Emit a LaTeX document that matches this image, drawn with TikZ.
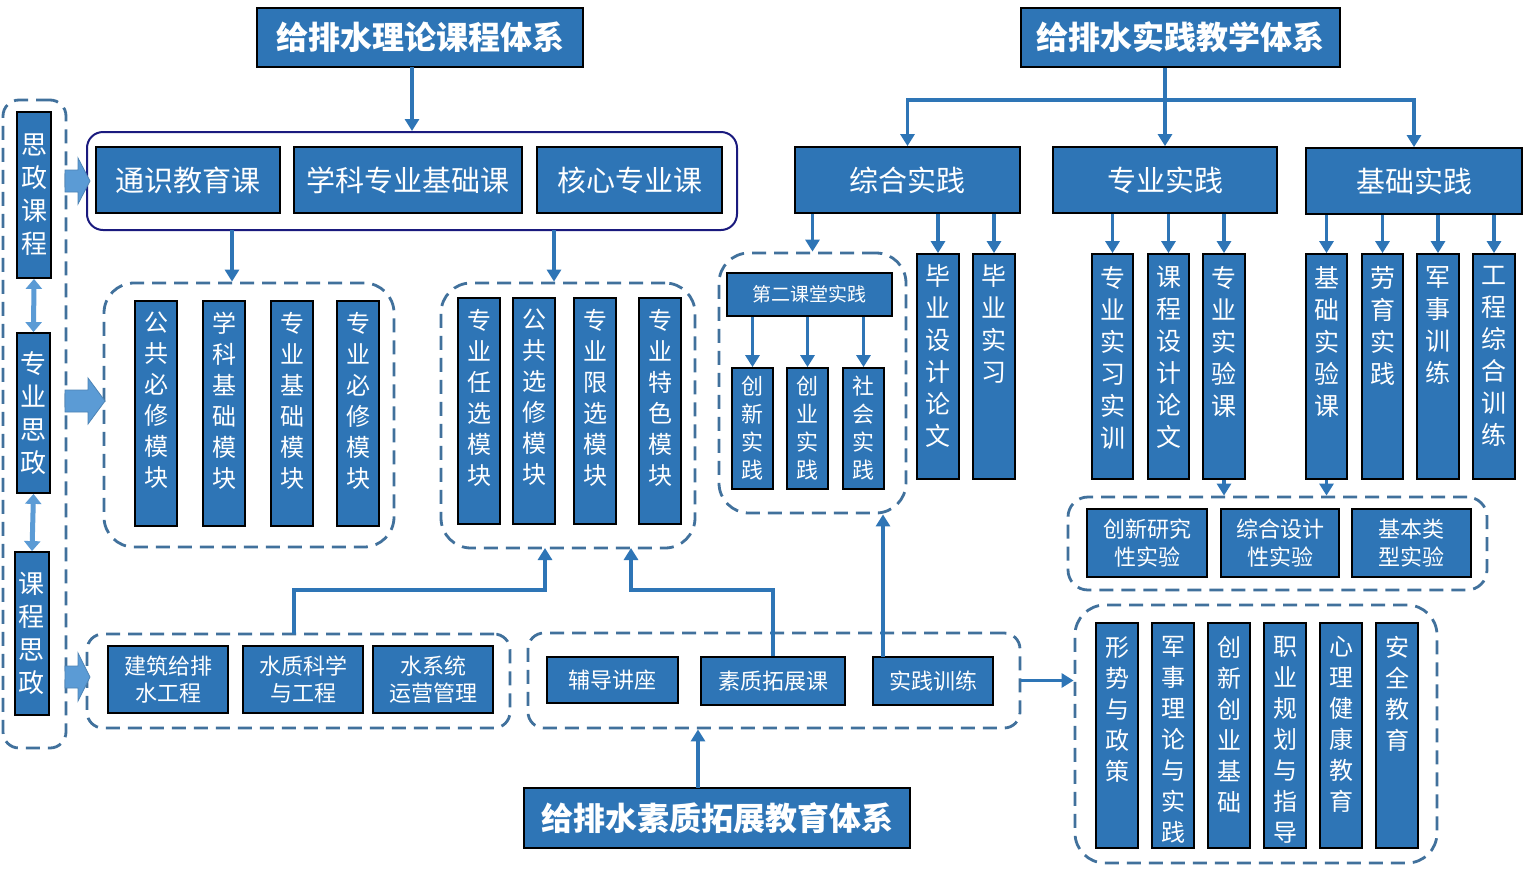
\documentclass[tikz,border=0pt]{standalone}
\usepackage{fontspec}
\newfontfamily\cjk{Noto Sans CJK SC}
\usetikzlibrary{arrows.meta}
\definecolor{boxblue}{HTML}{2E75B6}
\definecolor{dashblue}{HTML}{41719C}
\definecolor{arrblue}{HTML}{2E75B6}
\definecolor{lightarr}{HTML}{5B9BD5}
\definecolor{navyline}{HTML}{1A1A7E}
\newcommand\vmod[8]{%
  \node[box, minimum width=#4, minimum height=#5] (#1) at (#2,#3) {};
  \node[#6, anchor=north] (#1t) at ([yshift=-#7pt]#1.north) {#8};}
\begin{document}
\begin{tikzpicture}[x=1pt,y=-1pt,
  box/.style={draw=black, line width=1.8pt, fill=boxblue, inner sep=0pt, text=white},
  title/.style={box, font=\cjk\bfseries\fontsize{32}{38}\selectfont},
  mid/.style={box, font=\cjk\fontsize{29}{34}\selectfont},
  small/.style={box, font=\cjk\fontsize{22}{28}\selectfont, align=center},
  grp/.style={draw=dashblue, line width=2.8pt, dash pattern=on 14pt off 8pt, inner sep=0pt},
  arr/.style={draw=arrblue, line width=3.5pt, -{Triangle[width=14pt,length=12pt]}},
  dbl/.style={draw=lightarr, line width=5pt, {Triangle[width=16pt,length=10pt]}-{Triangle[width=16pt,length=10pt]}},
  barr/.style={fill=lightarr, draw=lightarr!85!black, line width=0.8pt},
  vtL/.style={font=\cjk\fontsize{26}{33}\selectfont, align=center},
  vtA/.style={text=white, inner sep=0pt, align=center, font=\cjk\fontsize{24}{31}\selectfont},
  vtE/.style={text=white, inner sep=0pt, align=center, font=\cjk\fontsize{25}{32}\selectfont},
  vtD/.style={font=\cjk\fontsize{22}{28}\selectfont, align=center}]
\useasboundingbox (0,0) rectangle (1534,868);
\fill[white] (0,0) rectangle (1534,868);

% ---------- groups ----------
\node[grp, rounded corners=16pt, minimum width=63, minimum height=648] (LG) at (34.5,424) {};
\node[draw=navyline, line width=2pt, rounded corners=16pt, minimum width=650, minimum height=98, inner sep=0pt] (G1) at (412,181) {};
\node[grp, rounded corners=30pt, minimum width=290, minimum height=264] (GA) at (249,415) {};
\node[grp, rounded corners=30pt, minimum width=254, minimum height=265] (GB) at (568,415.5) {};
\node[grp, rounded corners=30pt, minimum width=187, minimum height=260] (GC) at (812.5,383) {};
\node[grp, rounded corners=20pt, minimum width=419, minimum height=93] (GD) at (1277.5,543.5) {};
\node[grp, rounded corners=30pt, minimum width=362, minimum height=258] (GE) at (1256,734) {};
\node[grp, rounded corners=16pt, minimum width=423, minimum height=94] (GG) at (298.5,681) {};
\node[grp, rounded corners=16pt, minimum width=492, minimum height=95] (GF) at (774,680.5) {};

% ---------- titles ----------
\node[title, minimum width=326, minimum height=59] (T1) at (420,37.5) {给排水理论课程体系};
\node[title, minimum width=319, minimum height=59] (T2) at (1180.5,37.5) {给排水实践教学体系};
\node[title, minimum width=386, minimum height=60] (T3) at (717,818) {给排水素质拓展教育体系};

% ---------- left column ----------
\node[box, vtL, minimum width=34, minimum height=166] (L1) at (34,195) {思\\政\\课\\程};
\node[box, vtL, minimum width=33, minimum height=160] (L2) at (33.5,413) {专\\业\\思\\政};
\node[box, vtL, minimum width=34, minimum height=163] (L3) at (32,633.5) {课\\程\\思\\政};
\draw[dbl] (L1.south) -- (L2.north);
\draw[dbl] (L2.south) -- (L3.north);

% block arrows
\filldraw[barr] (65,170) -- (78,170) -- (78,158) -- (90,181) -- (78,204) -- (78,192) -- (65,192) -- cycle;
\filldraw[barr] (65,390) -- (88,390) -- (88,378) -- (105,401) -- (88,424) -- (88,412) -- (65,412) -- cycle;
\filldraw[barr] (65,666) -- (78,666) -- (78,653) -- (90,677) -- (78,701) -- (78,688) -- (65,688) -- cycle;

% ---------- theory courses ----------
\node[mid, minimum width=184, minimum height=66] (C1) at (188,180) {通识教育课};
\node[mid, minimum width=228, minimum height=66] (C2) at (408,180) {学科专业基础课};
\node[mid, minimum width=185, minimum height=66] (C3) at (629.5,180) {核心专业课};

\vmod{A1}{156}{413.5}{42}{225}{vtA}{12}{公\\共\\必\\修\\模\\块}
\vmod{A2}{224}{413.5}{42}{225}{vtA}{12}{学\\科\\基\\础\\模\\块}
\vmod{A3}{292}{413.5}{42}{225}{vtA}{12}{专\\业\\基\\础\\模\\块}
\vmod{A4}{358}{413.5}{42}{225}{vtA}{12}{专\\业\\必\\修\\模\\块}

\vmod{B1}{479}{411}{42}{226}{vtA}{12}{专\\业\\任\\选\\模\\块}
\vmod{B2}{534}{411}{42}{226}{vtA}{12}{公\\共\\选\\修\\模\\块}
\vmod{B3}{595}{411}{42}{226}{vtA}{12}{专\\业\\限\\选\\模\\块}
\vmod{B4}{660}{411}{42}{226}{vtA}{12}{专\\业\\特\\色\\模\\块}

% ---------- practice ----------
\node[mid, minimum width=225, minimum height=66] (ZH) at (907.5,180) {综合实践};
\node[mid, minimum width=224, minimum height=66] (ZY) at (1165,180) {专业实践};
\node[mid, minimum width=216, minimum height=66] (JC) at (1414,181) {基础实践};

\node[box, font=\cjk\fontsize{19}{24}\selectfont, minimum width=165, minimum height=43] (D0) at (809.5,294.5) {第二课堂实践};
\node[box, vtD, minimum width=41, minimum height=121] (D1) at (752.5,428.5) {创\\新\\实\\践};
\node[box, vtD, minimum width=41, minimum height=121] (D2) at (807.5,428.5) {创\\业\\实\\践};
\node[box, vtD, minimum width=41, minimum height=121] (D3) at (863.5,428.5) {社\\会\\实\\践};

\vmod{E1}{938}{366.5}{42}{225}{vtE}{11}{毕\\业\\设\\计\\论\\文}
\vmod{E2}{994}{366.5}{42}{225}{vtE}{11}{毕\\业\\实\\习}
\vmod{P1}{1112.5}{366.5}{41}{225}{vtE}{13}{专\\业\\实\\习\\实\\训}
\vmod{P2}{1168.5}{366.5}{41}{225}{vtE}{13}{课\\程\\设\\计\\论\\文}
\vmod{P3}{1224}{366.5}{42}{225}{vtE}{13}{专\\业\\实\\验\\课}
\vmod{Q1}{1326.5}{366.5}{41}{225}{vtE}{13}{基\\础\\实\\验\\课}
\vmod{Q2}{1382.5}{366.5}{41}{225}{vtE}{13}{劳\\育\\实\\践}
\vmod{Q3}{1438}{366.5}{42}{225}{vtE}{13}{军\\事\\训\\练}
\vmod{Q4}{1494}{366.5}{42}{225}{vtE}{13}{工\\程\\综\\合\\训\\练}

\node[small, minimum width=120, minimum height=68] (X1) at (1147,543) {创新研究\\性实验};
\node[small, minimum width=118, minimum height=68] (X2) at (1280,543) {综合设计\\性实验};
\node[small, minimum width=119, minimum height=68] (X3) at (1411.5,543) {基本类\\型实验};

\vmod{Y1}{1117}{735.5}{42}{225}{vtA}{14}{形\\势\\与\\政\\策}
\vmod{Y2}{1173}{735.5}{42}{225}{vtA}{14}{军\\事\\理\\论\\与\\实\\践}
\vmod{Y3}{1229}{735.5}{42}{225}{vtA}{14}{创\\新\\创\\业\\基\\础}
\vmod{Y4}{1285}{735.5}{42}{225}{vtA}{14}{职\\业\\规\\划\\与\\指\\导}
\vmod{Y5}{1341}{735.5}{42}{225}{vtA}{14}{心\\理\\健\\康\\教\\育}
\vmod{Y6}{1397}{735.5}{42}{225}{vtA}{14}{安\\全\\教\\育}

% ---------- bottom ----------
\node[small, font=\cjk\fontsize{22}{27}\selectfont, minimum width=120, minimum height=67] (S1) at (168,679.5) {建筑给排\\水工程};
\node[small, font=\cjk\fontsize{22}{27}\selectfont, minimum width=120, minimum height=67] (S2) at (303,679.5) {水质科学\\与工程};
\node[small, font=\cjk\fontsize{22}{27}\selectfont, minimum width=120, minimum height=67] (S3) at (433,679.5) {水系统\\运营管理};

\node[small, minimum width=131, minimum height=46] (F1) at (612.5,680) {辅导讲座};
\node[small, minimum width=144, minimum height=48] (F2) at (773,681) {素质拓展课};
\node[small, minimum width=120, minimum height=48] (F3) at (933,681) {实践训练};

% ---------- connectors ----------
\coordinate (t1b) at (412,67);
\draw[arr] (t1b) -- (t1b |- G1.north);
\coordinate (g1a) at (232,230);
\draw[arr] (g1a) -- (g1a |- GA.north);
\coordinate (g1b) at (554,230);
\draw[arr] (g1b) -- (g1b |- GB.north);

\coordinate (hub) at (1165,100);
\draw[arr] (T2.south -| ZY.north) -- (ZY.north);
\draw[arr] (hub) -| (ZH.north);
\draw[arr] (hub) -| (JC.north);

\draw[arr] (ZH.south -| GC.north) -- (GC.north);
\foreach \n in {E1,E2} \draw[arr] (ZH.south -| \n.north) -- (\n.north);
\foreach \n in {P1,P2,P3} \draw[arr] (ZY.south -| \n.north) -- (\n.north);
\foreach \n in {Q1,Q2,Q3,Q4} \draw[arr] (JC.south -| \n.north) -- (\n.north);
\foreach \n in {D1,D2,D3} \draw[arr] (D0.south -| \n.north) -- (\n.north);
\draw[arr] (P3.south) -- (P3.south |- GD.north);
\draw[arr] (Q1.south) -- (Q1.south |- GD.north);

\coordinate (lvl) at (0,590);
\coordinate (gg1) at (294,634);
\coordinate (gbin1) at (545,548);
\coordinate (gbin2) at (631,548);
\draw[arr] (gg1) -- (gg1 |- lvl) -| (gbin1);
\draw[arr] (F2.north) -- (F2.north |- lvl) -| (gbin2);
\coordinate (f3t) at (883,657);
\draw[arr] (f3t) -- (f3t |- GC.south);
\coordinate (t3t) at (698,788);
\draw[arr] (t3t) -- (t3t |- GF.south);
\draw[arr] (GF.east) -- (GF.east -| GE.west);
\end{tikzpicture}
\end{document}
